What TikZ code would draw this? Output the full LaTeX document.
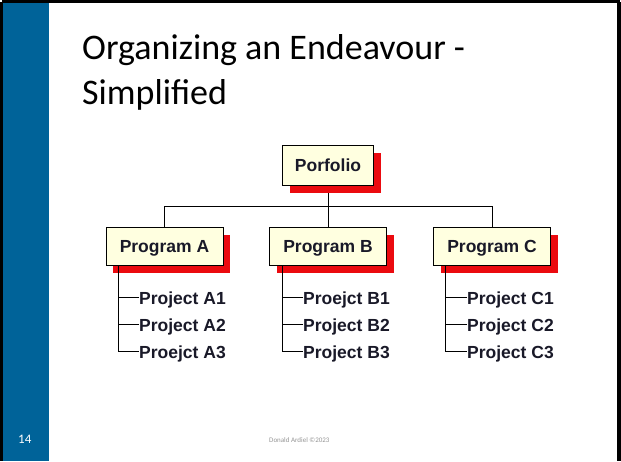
\documentclass[tikz,border=0pt]{standalone}
\usepackage{fontspec}
\setmainfont{Carlito}
\newfontfamily\arialfont{Liberation Sans}
\definecolor{slideblue}{RGB}{0,99,153}
\definecolor{boxcream}{RGB}{255,255,224}
\definecolor{shadowred}{RGB}{235,10,15}
\definecolor{txtdark}{RGB}{25,25,40}
\definecolor{footgray}{RGB}{150,150,150}
\begin{document}
\begin{tikzpicture}[x=1pt,y=-1pt,
  orgbox/.style={draw=black, line width=1pt, fill=boxcream, inner sep=0pt,
    minimum width=117pt, minimum height=38pt, text height=12.5pt, text depth=0pt,
    font=\arialfont\bfseries\fontsize{17.5}{20}\selectfont, text=txtdark,
    preaction={draw=none, fill=shadowred, transform canvas={xshift=7pt, yshift=-8pt}}},
  projtext/.style={anchor=base west, inner sep=0pt,
    font=\arialfont\bfseries\fontsize{17.5}{20}\selectfont, text=txtdark},
  conn/.style={draw=black, line width=1pt}
]
\useasboundingbox (0,0) rectangle (621,461);
% slide background with frame
\fill[black] (0,0) rectangle (621,461);
\fill[white] (3,3) rectangle (617,461);
\fill[slideblue] (3,3) rectangle (49,461);
\fill[white] (0,0) rectangle (1.5,1.5);
\fill[white] (619.5,0) rectangle (621,1.5);
% title
\node[anchor=base west, inner sep=0pt, font=\fontsize{36}{43}\selectfont] (t1) at (82,59) {Organizing an Endeavour -};
\node[anchor=base west, inner sep=0pt, font=\fontsize{36}{43}\selectfont] (t2) at (82,104) {Simplified};
% footer
\node[anchor=base west, inner sep=0pt, text=white, font=\fontsize{13}{15}\selectfont] (pg) at (18,443) {14};
\node[anchor=base west, inner sep=0pt, text=footgray, font=\fontsize{7}{8}\selectfont] (ft) at (269,442) {Donald Ardiel ©2023};
% bus connectors (drawn first, boxes on top)
\coordinate (pfs) at (328,185);
\coordinate (bus) at (328,206);
\coordinate (pan) at (164.5,227);
\coordinate (pbn) at (328,227);
\coordinate (pcn) at (492,227);
\draw[conn] (pfs) -- (pbn);
\draw[conn] (pan) -- (pan |- bus) -- (pcn |- bus) -- (pcn);
% boxes
\node[orgbox, minimum width=91pt, minimum height=40pt] (pf) at (328,165) {Porfolio};
\node[orgbox] (pa) at (164.5,246) {Program A};
\node[orgbox] (pb) at (328,246) {Program B};
\node[orgbox] (pc) at (492,246) {Program C};
% projects A
\node[projtext] (a1) at (139,304) {Project A1};
\node[projtext] (a2) at (139,331) {Project A2};
\node[projtext] (a3) at (139,358) {Proejct A3};
\coordinate (va) at ([xshift=13pt]pa.south west);
\draw[conn] (va) |- ([yshift=7pt]a3.base west);
\draw[conn] ([yshift=7pt]a1.base west) -- ([yshift=7pt]a1.base west -| va);
\draw[conn] ([yshift=7pt]a2.base west) -- ([yshift=7pt]a2.base west -| va);
% projects B
\node[projtext] (b1) at (303,304) {Proejct B1};
\node[projtext] (b2) at (303,331) {Project B2};
\node[projtext] (b3) at (303,358) {Project B3};
\coordinate (vb) at ([xshift=13pt]pb.south west);
\draw[conn] (vb) |- ([yshift=7pt]b3.base west);
\draw[conn] ([yshift=7pt]b1.base west) -- ([yshift=7pt]b1.base west -| vb);
\draw[conn] ([yshift=7pt]b2.base west) -- ([yshift=7pt]b2.base west -| vb);
% projects C
\node[projtext] (c1) at (467,304) {Project C1};
\node[projtext] (c2) at (467,331) {Project C2};
\node[projtext] (c3) at (467,358) {Project C3};
\coordinate (vc) at ([xshift=12pt]pc.south west);
\draw[conn] (vc) |- ([yshift=7pt]c3.base west);
\draw[conn] ([yshift=7pt]c1.base west) -- ([yshift=7pt]c1.base west -| vc);
\draw[conn] ([yshift=7pt]c2.base west) -- ([yshift=7pt]c2.base west -| vc);
\end{tikzpicture}
\end{document}
